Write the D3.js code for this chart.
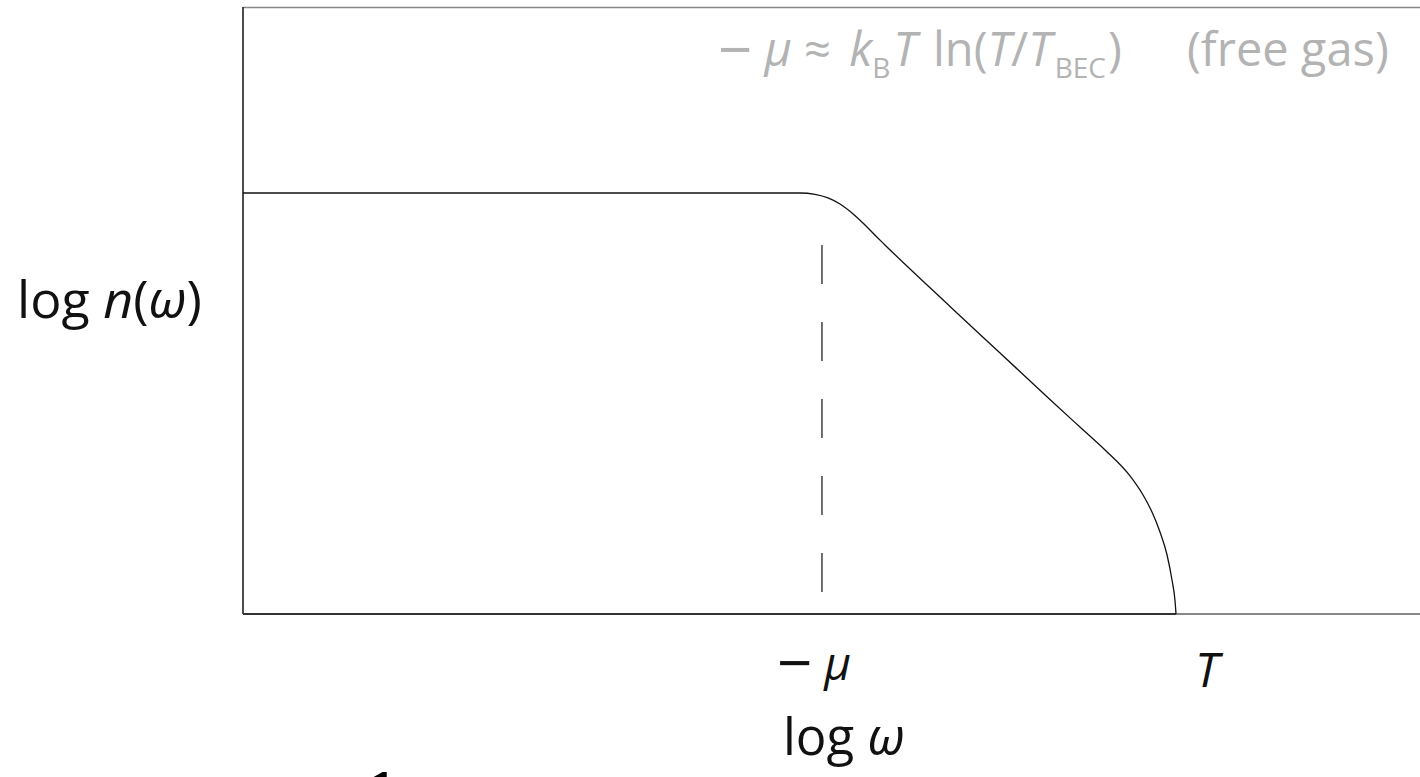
<!DOCTYPE html>
<html>
<head>
<meta charset="utf-8">
<script src="https://cdn.jsdelivr.net/npm/d3@7"></script>
<style>
  body { margin: 0; background: #fff; }
  svg { display: block; font-family: "Open Sans", Lato, sans-serif; }
</style>
</head>
<body>
<svg id="chart" width="1420" height="777"></svg>
<script>
// curve: log omega (x) vs log n (y), arbitrary units
var logOmega = [0, 4.732, 4.860, 4.970, 5.072, 5.174, 5.276, 5.370, 5.454, 6.007, 6.432, 6.856,
                7.111, 7.324, 7.536, 7.647, 7.723, 7.791, 7.851, 7.893, 7.918, 7.927];
var logN     = [3.468, 3.468, 3.456, 3.427, 3.377, 3.303, 3.212, 3.120, 3.040, 2.533, 2.150, 1.767,
                1.540, 1.351, 1.137, 0.980, 0.840, 0.675, 0.486, 0.280, 0.115, 0];

// marked positions on the x axis
var tickNames = ['mu', 'T'];
var tickValues = [4.919, 7.927];

var svg = d3.select('#chart');
var margin = { left: 243, right: 0, top: 7, bottom: 163 };
var width = 1420 - margin.left - margin.right;
var height = 777 - margin.top - margin.bottom;

var x = d3.scaleLinear().domain([0, 10]).range([margin.left, margin.left + width]);
var y = d3.scaleLinear().domain([0, 5]).range([margin.top + height, margin.top]);

var pts = logOmega.map(function (d, i) { return [d, logN[i]]; });

// frame
svg.append('line').attr('x1', x(0)).attr('x2', x(10)).attr('y1', y(5) + 0.5).attr('y2', y(5) + 0.5)
    .attr('stroke', '#888').attr('stroke-width', 1.5);
svg.append('line').attr('x1', x(0)).attr('x2', x(0)).attr('y1', y(5)).attr('y2', y(0))
    .attr('stroke', '#111').attr('stroke-width', 1.5);
svg.append('line').attr('x1', x(0)).attr('x2', x(tickValues[1])).attr('y1', y(0)).attr('y2', y(0))
    .attr('stroke', '#333').attr('stroke-width', 2);
svg.append('line').attr('x1', x(tickValues[1])).attr('x2', x(10)).attr('y1', y(0)).attr('y2', y(0))
    .attr('stroke', '#888').attr('stroke-width', 2);

// dashed marker at -mu
svg.append('line')
    .attr('x1', x(tickValues[0])).attr('x2', x(tickValues[0]))
    .attr('y1', y(0)).attr('y2', y(3.3))
    .attr('stroke', '#111').attr('stroke-width', 1.2)
    .attr('stroke-dasharray', '39,38').attr('stroke-dashoffset', -22);

// occupation curve
svg.append('path')
    .datum(pts)
    .attr('fill', 'none')
    .attr('stroke', '#111')
    .attr('stroke-width', 1.3)
    .attr('d', d3.line().x(function (d) { return x(d[0]); }).y(function (d) { return y(d[1]); })
        .curve(d3.curveMonotoneX));

// wide minus sign, like the one in the picture
function minus(sel, size, drop) {
    sel.append('tspan').attr('font-size', size).attr('dy', drop).text('\u2212');
    sel.append('tspan').attr('dy', -drop).text(' ');
}

// tick labels
var muLabel = svg.append('text').attr('x', x(tickValues[0]) - 45).attr('y', 680)
    .attr('font-size', 46).attr('fill', '#111');
minus(muLabel, 62, 5);
muLabel.append('tspan').attr('font-style', 'italic').text('\u03bc');

svg.append('text').attr('x', x(tickValues[1]) + 19).attr('y', 687)
    .attr('font-size', 48).attr('font-style', 'italic').attr('fill', '#111').text('T');

// axis titles
var xt = svg.append('text').attr('x', 783).attr('y', 755).attr('font-size', 51).attr('fill', '#111');
xt.append('tspan').text('log ');
xt.append('tspan').attr('font-style', 'italic').text('\u03c9');

var yt = svg.append('text').attr('x', 17).attr('y', 318).attr('font-size', 52).attr('fill', '#111');
yt.append('tspan').text('log ');
yt.append('tspan').attr('font-style', 'italic').text('n');
yt.append('tspan').text('(');
yt.append('tspan').attr('font-style', 'italic').text('\u03c9');
yt.append('tspan').text(')');

// annotation (grey)
var ann = svg.append('text').attr('x', 718).attr('y', 66).attr('font-size', 47).attr('fill', '#b3b3b3');
minus(ann, 60, 5);
ann.append('tspan').attr('font-style', 'italic').text('\u03bc');
ann.append('tspan').text(' \u2248 ');
ann.append('tspan').attr('dx', 6).attr('font-style', 'italic').text('k');
ann.append('tspan').attr('font-size', 28).attr('dy', 12).text('B');
ann.append('tspan').attr('dy', -12).attr('dx', 3).attr('font-style', 'italic').text('T');
ann.append('tspan').attr('dx', 4).text(' ln(');
ann.append('tspan').attr('font-style', 'italic').text('T');
ann.append('tspan').text('/');
ann.append('tspan').attr('font-style', 'italic').text('T');
ann.append('tspan').attr('dx', 3).attr('font-size', 28).attr('dy', 12).text('BEC');
ann.append('tspan').attr('dx', 2).attr('dy', -12).text(')');
ann.append('tspan').attr('x', 1187).text('(free gas)');

// cut-off glyph at the bottom edge
svg.append('text').attr('x', 366).attr('y', 812).attr('font-size', 62)
    .attr('font-family', '"Liberation Serif", serif').attr('font-weight', 'bold')
    .attr('fill', '#000').text('1');
</script>
</body>
</html>
